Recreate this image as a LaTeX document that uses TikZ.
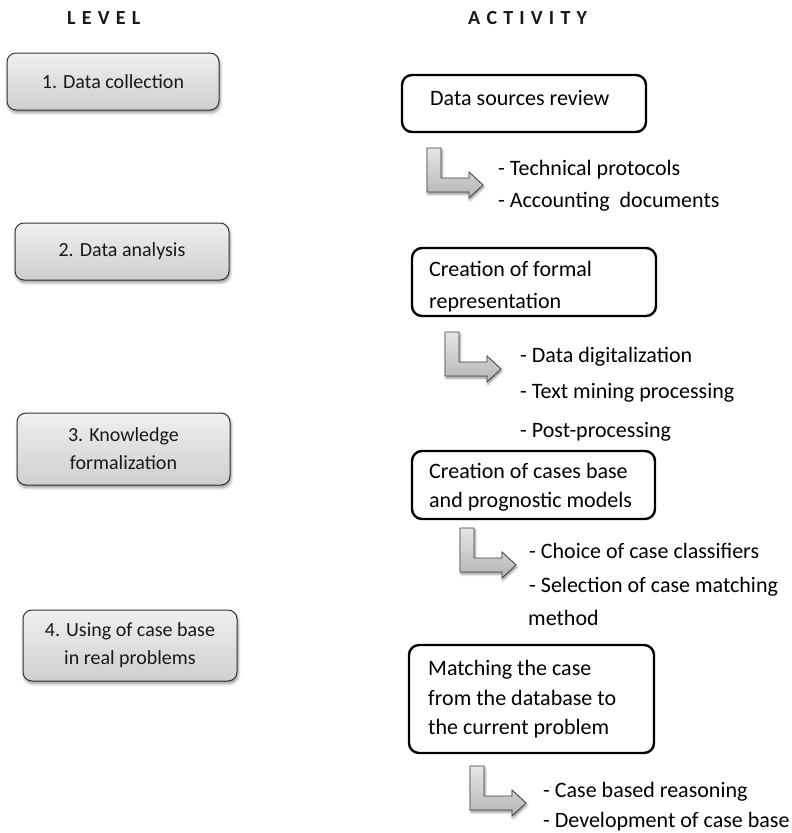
\documentclass[tikz,border=0pt]{standalone}
\usepackage{fontspec}
\setmainfont{Carlito}
\usetikzlibrary{shadows.blur}
\newcommand{\lsp}{\hspace{6.2pt}}
\begin{document}
\begin{tikzpicture}[x=1pt,y=-1pt,
  lvl/.style={draw=black!80, line width=1pt, rounded corners=9pt,
    top color=gray!12, bottom color=gray!38,
    blur shadow={shadow xshift=1pt, shadow yshift=-2.5pt, shadow blur radius=3pt, shadow opacity=45},
    inner sep=0pt, minimum width=213pt, align=center,
    font=\fontsize{20}{28}\selectfont, text=black!90},
  act/.style={draw=black, line width=2.4pt, rounded corners=10pt, fill=white, inner sep=0pt},
  txt/.style={font=\fontsize{22}{28}\selectfont, inner sep=0pt, anchor=base west, text=black},
  head/.style={font=\fontsize{20}{24}\bfseries\selectfont, inner sep=0pt, anchor=base west, text=black!90},
  bentsty/.style={draw=black!75, line width=0.8pt, top color=gray!20, bottom color=gray!58,
    blur shadow={shadow xshift=1pt, shadow yshift=-2pt, shadow blur radius=2.5pt, shadow opacity=45}},
  bent/.pic={\path[bentsty] (0,0) -- (14,0) -- (14,30) -- (42,30) -- (42,24) -- (56,37) -- (42,50) -- (42,44) -- (0,44) -- cycle;}
]
\useasboundingbox (0,0) rectangle (792,833);

% headers
\node[head] (hlevel) at (67,24) {L\lsp E\lsp V\lsp E\lsp L};
\node[head] (hact) at (468,24) {A\lsp C\lsp T\lsp I\lsp V\lsp I\lsp T\lsp Y};

% level boxes
\node[lvl, minimum width=212pt, minimum height=57pt] (L1) at (113,81.5) {1. Data collection};
\node[lvl, minimum width=214pt, minimum height=57pt] (L2) at (122,251.5) {2. Data analysis};
\node[lvl, minimum width=213pt, minimum height=72pt] (L3) at (123.5,449) {3. Knowledge\\formalization};
\node[lvl, minimum width=214pt, minimum height=71pt] (L4) at (130,645.5) {4. Using of case base\\in real problems};

% activity boxes
\node[act, minimum width=244pt, minimum height=57pt] (A1) at (524,103.5) {};
\node[txt] (A1a) at (430,105) {Data sources review};

\node[act, minimum width=244pt, minimum height=68pt] (A2) at (534,282) {};
\node[txt] (A2a) at (429,276) {Creation of formal};
\node[txt] (A2b) at (429,308) {representation};

\node[act, minimum width=243pt, minimum height=68pt] (A3) at (533.5,485) {};
\node[txt] (A3a) at (429,478) {Creation of cases base};
\node[txt] (A3b) at (429,507) {and prognostic models};

\node[act, minimum width=245pt, minimum height=108pt] (A4) at (531.5,699) {};
\node[txt] (A4a) at (428,675) {Matching the case};
\node[txt] (A4b) at (428,705) {from the database to};
\node[txt] (A4c) at (428,734) {the current problem};

% bent arrows
\pic at (427,148) {bent};
\pic at (445,332) {bent};
\pic at (460,528) {bent};
\pic at (470,766) {bent};

% items
\node[txt] (I1a) at (498,175) {- Technical protocols};
\node[txt] (I1b) at (498,207) {- Accounting\ \ documents};

\node[txt] (I2a) at (520,362) {- Data digitalization};
\node[txt] (I2b) at (520,398) {- Text mining processing};
\node[txt] (I2c) at (520,437) {- Post-processing};

\node[txt] (I3a) at (529,558) {- Choice of case classifiers};
\node[txt] (I3b) at (529,592) {- Selection of case matching};
\node[txt] (I3c) at (528,625) {method};

\node[txt] (I4a) at (543,797) {- Case based reasoning};
\node[txt] (I4b) at (543,827) {- Development of case base};
\end{tikzpicture}
\end{document}
